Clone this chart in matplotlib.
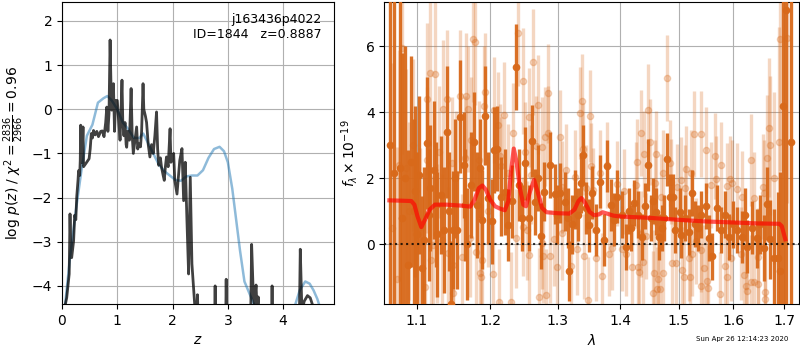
import numpy as np
import matplotlib
matplotlib.use('Agg')
import matplotlib.pyplot as plt
from matplotlib.ticker import NullLocator, FixedLocator, FixedFormatter

# ---- p(z) panel ----
pz_grid_z = [0.05, 0.15, 0.25, 0.35, 0.45, 0.55, 0.65, 0.75, 0.82, 0.9, 1.0, 1.1, 1.2, 1.3,
             1.4, 1.47, 1.55, 1.65, 1.75, 1.85, 1.95, 2.05, 2.15, 2.25, 2.35, 2.45, 2.55, 2.65,
             2.75, 2.85, 2.93, 3.0, 3.08, 3.15, 3.22, 3.3, 3.4, 3.5, 3.6, 4.1, 4.2, 4.3, 4.4,
             4.48, 4.55, 4.62, 4.67, 4.75]
pz_grid_lp = [-4.5, -3.3, -2.3, -1.4, -0.6, -0.35, 0.15, 0.25, 0.3, 0.2, 0.0, -0.3, -0.45, -0.65,
              -0.65, -0.55, -0.75, -1.0, -1.25, -1.4, -1.5, -1.6, -1.62, -1.52, -1.5, -1.5, -1.38, -1.1,
              -0.9, -0.85, -0.95, -1.2, -1.8, -2.5, -3.2, -3.9, -4.2, -4.5, -6, -6, -4.5, -4.1, -3.9,
              -3.95, -4.1, -4.3, -4.5, -6]

pz_fit_z = [0.0, 0.03, 0.085, 0.13, 0.145, 0.16, 0.175, 0.21, 0.23, 0.25, 0.266, 0.29, 0.30, 0.32,
            0.33, 0.338, 0.35, 0.36, 0.38, 0.39, 0.43, 0.49, 0.51, 0.53, 0.55, 0.57, 0.60, 0.63,
            0.66, 0.70, 0.73, 0.76, 0.79, 0.81, 0.83, 0.85, 0.87, 0.89, 0.90, 0.92, 0.93, 0.95,
            0.97, 1.00, 1.02, 1.04, 1.05, 1.07, 1.085, 1.10, 1.12, 1.14, 1.16, 1.17, 1.19, 1.22,
            1.25, 1.27, 1.29, 1.31, 1.35, 1.37, 1.39, 1.42, 1.44, 1.466, 1.48, 1.51, 1.53, 1.56,
            1.59, 1.62, 1.65, 1.68, 1.71, 1.73, 1.75, 1.78, 1.80, 1.83, 1.85, 1.87, 1.89, 1.92,
            1.955, 1.97, 1.985, 2.02, 2.04, 2.08, 2.13, 2.17, 2.20, 2.23, 2.26, 2.29, 2.32, 2.35,
            2.38, 2.41, 2.44, 2.45, 2.46, 2.5, 2.75, 2.77, 2.79, 2.95, 2.97, 2.99, 3.40, 3.43,
            3.46, 3.48, 3.51, 3.53, 3.55, 3.57, 3.78, 3.80, 3.82, 4.28, 4.31, 4.34, 4.38, 4.44,
            4.49, 4.55, 4.6]
pz_fit_lp = [-6, -4.6, -4.27, -3.73, -2.37, -3.3, -3.36, -2.98, -2.4, -2.5, -1.99, -1.6, -1.39, -1.5,
             -1.16, -0.36, -1.0, -1.2, -0.40, -1.3, -1.23, -1.12, -0.9, -0.55, -0.65, -0.48, -0.58, -0.5,
             -0.62, -0.5, -0.49, -0.62, -0.3, 0.05, -0.5, -0.1, 1.57, 0.3, -0.02, 0.2, 0.58, -0.5,
             0.2, 0.2, -0.17, -0.5, -0.7, 0.1, 0.66, -0.3, -0.6, -0.3, -0.8, -0.86, -0.5, -0.7,
             0.47, -0.6, -1.0, -0.8, -0.40, -0.9, -0.78, -0.85, -0.5, 0.58, 0.0, -0.16, -0.3, -0.8,
             -1.08, -0.8, -1.0, -0.6, -0.06, -0.9, -1.27, -1.1, -1.31, -1.5, -1.61, -1.3, -1.08, -1.3,
             -0.44, -1.2, -1.16, -1.0, -1.61, -1.92, -1.16, -0.89, -2.07, -1.2, -2.52, -3.73, -1.54, -3.5,
             -4.04, -4.6, -4.6, -4.2, -4.6, -6, -6, -4.0, -6, -6, -3.85, -6, -6, -3.06,
             -4.2, -4.4, -3.98, -4.6, -4.25, -6, -6, -4.0, -6, -6, -3.17, -4.6, -4.35, -4.22,
             -4.27, -4.5, -6]

# ---- spectrum panel ----
grism_a_wave = [1.066, 1.071, 1.0785, 1.081, 1.085, 1.089, 1.093, 1.096, 1.098, 1.100, 1.103, 1.107,
                1.110, 1.113, 1.1155, 1.118, 1.1225, 1.125, 1.127, 1.132, 1.136, 1.140, 1.143, 1.145,
                1.149, 1.151, 1.154, 1.158, 1.163, 1.165, 1.168, 1.173, 1.177, 1.182, 1.185, 1.188,
                1.192, 1.1965, 1.2025, 1.2055, 1.2095, 1.2155, 1.221,
                1.226, 1.232, 1.238, 1.2415, 1.2455, 1.2505, 1.257, 1.261, 1.266, 1.270, 1.275, 1.279,
                1.2885, 1.295, 1.299, 1.304, 1.3105, 1.316, 1.318, 1.322, 1.327, 1.332, 1.337, 1.3395,
                1.344, 1.349, 1.354, 1.3605, 1.367, 1.3725, 1.378, 1.384, 1.389, 1.395, 1.402, 1.409,
                1.414, 1.4185, 1.4235, 1.430, 1.436, 1.442, 1.446, 1.452, 1.456, 1.461, 1.466, 1.4715,
                1.475, 1.479, 1.4855, 1.490, 1.494, 1.502, 1.505, 1.511, 1.519, 1.524, 1.530, 1.534,
                1.541, 1.549, 1.555, 1.561, 1.569, 1.577, 1.584, 1.5925, 1.600, 1.608, 1.6175, 1.622,
                1.627, 1.636, 1.645, 1.652, 1.659, 1.665, 1.6715, 1.679, 1.6875, 1.692, 1.697, 1.704,
                1.714]
grism_a_flux = [3.0, 2.15, 2.3, 0.79, 2.0, -0.63, 2.5, 1.0, 1.6, 0.3, 2.1, -0.73,
                0.13, 3.06, 0.9, 1.7, 2.25, 1.2, 0.3, 1.49, 0.43, 3.39, 1.0, -1.8,
                0.43, 2.0, 0.43, 3.87, 2.4, 1.2, 0.0, 1.8, 3.11, 1.19, 2.3, 0.74,
                3.89, 1.4, 0.69, 2.86, 2.9, 1.44, 1.59,
                0.58, 1.3, 5.38, 1.8, 0.79, 2.45, 0.79, 3.13, 1.29, 2.0, 0.25, 1.59,
                2.4, 1.52, 0.9, 1.55, 1.29, 0.79, -0.81, 0.6, 1.36, 0.9, 1.85, 2.71,
                1.1, 0.58, 1.56, 0.43, 1.89, 0.13, 2.37, 1.19, 0.74, 1.44, 0.9, -0.08,
                1.0, 0.5, 1.26, 0.9, 0.22, 1.15, 2.4, 0.8, 1.3, 0.99, 0.22, 0.5,
                0.79, 2.58, 1.44, 1.44, 0.43, 0.99, 0.28, 0.8, 0.38, 1.56, 0.61, 0.5,
                0.9, 1.15, 0.18, -0.37, 1.1, 0.43, 0.9, 0.22, 0.6, 0.43, 0.22, 0.9,
                -0.08, 0.5, 0.18, 0.6, -0.1, 1.23, 0.15, -0.42, -0.42, -0.8, 4.19, 7.1,
                3.09]
grism_a_err = [8, 9, 7, 5, 4, 3.5, 3.2, 2.8, 2.6, 2.5, 2.4, 2.2,
               2.2, 2.0, 2.0, 1.9, 2.1, 1.9, 1.9, 1.8, 1.9, 2.0, 1.8, 1.9,
               1.8, 1.8, 1.8, 1.7, 1.6, 1.7, 1.7, 1.6, 1.5, 1.6, 1.5, 1.5,
               1.5, 1.4, 1.3, 1.3, 1.3, 1.2, 1.3,
               1.1, 1.1, 1.3, 1.1, 1.0, 1.1, 1.0, 1.1, 1.0, 1.0, 1.0, 0.9,
               1.0, 0.9, 0.9, 0.9, 0.9, 0.9, 0.9, 0.9, 0.9, 0.8, 0.9, 0.9,
               0.8, 0.8, 0.8, 0.8, 0.8, 0.8, 0.8, 0.8, 0.8, 0.8, 0.7, 0.7,
               0.7, 0.7, 0.7, 0.7, 0.7, 0.7, 0.8, 0.7, 0.7, 0.7, 0.7, 0.7,
               0.7, 0.8, 0.7, 0.7, 0.7, 0.7, 0.7, 0.7, 0.7, 0.7, 0.7, 0.7,
               0.7, 0.7, 0.7, 0.7, 0.7, 0.7, 0.7, 0.7, 0.7, 0.7, 0.8, 0.8,
               0.8, 0.8, 0.9, 0.9, 1.0, 1.1, 1.2, 1.5, 2.0, 3.0, 9, 9,
               9]

grism_b_wave = [1.068, 1.075, 1.077, 1.081, 1.0857, 1.090, 1.095, 1.099, 1.1043, 1.1104, 1.113, 1.114,
                1.1175, 1.1184, 1.1218, 1.124, 1.127, 1.130, 1.134, 1.135, 1.140, 1.142, 1.147, 1.148,
                1.149, 1.153, 1.1585, 1.160, 1.1645, 1.1665, 1.1685, 1.172, 1.173, 1.1755, 1.1785, 1.180,
                1.184, 1.185, 1.1865, 1.189, 1.191, 1.192, 1.197, 1.2035, 1.206, 1.211, 1.213, 1.2135,
                1.2155, 1.220, 1.225, 1.2295, 1.2325, 1.237, 1.240, 1.2475, 1.2478, 1.251, 1.2535, 1.256,
                1.2565, 1.2595, 1.263, 1.267, 1.270, 1.272, 1.2755, 1.2758, 1.278, 1.280, 1.282, 1.2845,
                1.2848, 1.288, 1.2935, 1.299, 1.303, 1.307, 1.3073, 1.3135, 1.3205, 1.327, 1.330, 1.334,
                1.3375, 1.340, 1.341, 1.345, 1.348, 1.3505, 1.352, 1.355, 1.3605, 1.3665, 1.3695, 1.378,
                1.381, 1.3865, 1.395, 1.4035, 1.4065, 1.409, 1.4195, 1.4265, 1.428, 1.429, 1.432, 1.435,
                1.4353, 1.438, 1.4405, 1.4435, 1.4465, 1.4495, 1.455, 1.457, 1.458, 1.461, 1.4613, 1.464,
                1.4665, 1.469, 1.472, 1.473, 1.479, 1.4845, 1.4865, 1.489, 1.495, 1.498, 1.5035, 1.5065,
                1.5095, 1.512, 1.5135, 1.518, 1.521, 1.522, 1.524, 1.527, 1.531, 1.5395, 1.5398, 1.5405,
                1.546, 1.549, 1.552, 1.553, 1.558, 1.567, 1.5673, 1.575, 1.578, 1.584, 1.589, 1.5893,
                1.594, 1.5965, 1.5985, 1.608, 1.6145, 1.6165, 1.620, 1.6245, 1.6275, 1.634, 1.6343, 1.6405,
                1.6408, 1.647, 1.6473, 1.657, 1.660, 1.6615, 1.662, 1.6665, 1.670, 1.672, 1.680, 1.690,
                1.6915, 1.7045]
grism_b_flux = [0.5, -1.06, 2.4, 5.94, 2.3, 1.0, 3.0, 0.3, 0.51, -1.28, 2.55, 4.4,
                5.19, -0.48, -0.02, 5.16, 0.33, 2.8, 0.13, 4.1, 4.40, -0.27, 2.45, -1.49,
                -0.63, 2.13, 4.5, -0.39, 2.6, 4.5, 4.1, 0.2, 3.16, 6.21, 6.12, -0.24,
                2.55, -0.88, -0.98, -0.48, 4.2, 4.6, 1.0, -0.9, 4.07, 3.62, -1.74, 2.66,
                2.36, 3.92, 2.15, -1.74, 3.38, 0.18, 6.39, 4.94, 0.53, 2.81, 0.43, 3.85,
                -0.33, 2.1, 5.52, 2.99, 4.22, -1.6, 2.95, 0.03, -0.37, 3.26, -1.54, 3.38,
                4.57, -0.37, 0.15, -0.7, 3.26, 1.74, 0.33, 2.25, -0.66, 2.05, -0.13, 3.97,
                4.35, 2.88, -0.37, 1.70, -1.69, 3.89, 2.36, 1.63, -0.43, 2.16, -0.96, 2.39,
                -0.28, -0.10, 1.84, -0.13, 1.6, -0.28, -0.68, 1.79, 2.49, -0.7, -0.83, 0.3,
                3.36, -0.53, 2.74, 0.25, 4.07, 3.11, -1.49, -0.88, 1.87, 2.74, -1.37, -1.06,
                -1.37, 1.43, 2.16, -0.86, 5.03, 2.45, 1.9, -0.58, -0.58, 1.74, 1.95, -0.78,
                -0.98, 1.70, 2.28, -0.43, -0.98, 2.17, -0.28, 3.34, 0.09, -0.16, -1.26, 3.33,
                -0.71, 2.86, -1.1, -1.32, 1.79, 2.68, 1.97, -1.52, 2.39, -0.65, -0.98, 1.76,
                1.97, -0.43, 1.85, 1.68, -0.28, 1.43, -0.94, -1.27, -1.43, 2.55, -1.13, -1.13,
                1.4, -1.2, -0.4, 1.75, 1.56, -1.44, -1.66, 2.62, 3.53, 3.0, 2.0, 3.09,
                6.21, 6.24]
grism_b_err = [5, 4, 3.5, 3.2, 3, 2.7, 2.6, 2.5, 2.4, 2.3, 2.2, 2.3,
               2.2, 2.1, 2.1, 2.2, 2.1, 2.0, 2.0, 2.1, 2.1, 2.0, 2.0, 2.0,
               1.9, 1.9, 2.0, 1.9, 1.9, 1.9, 1.9, 1.8, 1.9, 1.9, 1.9, 1.8,
               1.8, 1.8, 1.8, 1.7, 1.8, 1.8, 1.7, 1.6, 1.6, 1.6, 1.6, 1.6,
               1.5, 1.6, 1.5, 1.5, 1.5, 1.5, 1.6, 1.6, 1.5, 1.5, 1.5, 1.5,
               1.5, 1.5, 1.6, 1.5, 1.5, 1.5, 1.5, 1.4, 1.4, 1.5, 1.4, 1.4,
               1.5, 1.4, 1.4, 1.4, 1.4, 1.4, 1.4, 1.4, 1.4, 1.4, 1.4, 1.4,
               1.4, 1.4, 1.3, 1.3, 1.3, 1.4, 1.3, 1.3, 1.3, 1.3, 1.3, 1.3,
               1.3, 1.3, 1.3, 1.3, 1.3, 1.3, 1.3, 1.3, 1.3, 1.3, 1.3, 1.3,
               1.3, 1.3, 1.3, 1.3, 1.4, 1.3, 1.3, 1.3, 1.3, 1.3, 1.3, 1.3,
               1.3, 1.3, 1.3, 1.3, 1.3, 1.3, 1.3, 1.3, 1.3, 1.3, 1.3, 1.3,
               1.3, 1.3, 1.3, 1.3, 1.3, 1.3, 1.3, 1.3, 1.3, 1.3, 1.3, 1.3,
               1.3, 1.3, 1.3, 1.3, 1.3, 1.3, 1.3, 1.3, 1.3, 1.3, 1.3, 1.3,
               1.3, 1.3, 1.3, 1.4, 1.4, 1.4, 1.4, 1.4, 1.4, 1.4, 1.4, 1.4,
               1.4, 1.5, 1.5, 1.6, 1.6, 1.6, 1.6, 1.9, 2.1, 2.1, 2.6, 3.5,
               4, 5]

model_wave = [1.065, 1.080, 1.093, 1.097, 1.101, 1.106, 1.111, 1.117, 1.124, 1.140, 1.160, 1.172,
              1.178, 1.184, 1.189, 1.194, 1.200, 1.207, 1.214, 1.221, 1.226, 1.230, 1.234, 1.238,
              1.243, 1.248, 1.252, 1.258, 1.264, 1.270, 1.276, 1.283, 1.300, 1.318, 1.326, 1.332,
              1.337, 1.343, 1.350, 1.357, 1.364, 1.371, 1.378, 1.388, 1.400, 1.450, 1.500, 1.550,
              1.600, 1.650, 1.690, 1.695, 1.702]
model_flux = [1.33, 1.32, 1.31, 1.2, 0.85, 0.52, 0.75, 1.05, 1.2, 1.2, 1.17, 1.14,
              1.35, 1.7, 1.78, 1.65, 1.35, 1.15, 1.08, 1.03, 1.3, 2.2, 2.9, 2.5,
              1.7, 1.2, 1.15, 1.6, 1.95, 1.55, 1.1, 0.97, 0.94, 0.93, 1.05, 1.3,
              1.40, 1.25, 0.98, 0.88, 0.9, 0.97, 0.93, 0.87, 0.84, 0.80, 0.74, 0.69,
              0.66, 0.63, 0.62, 0.55, 0.15]

wave_ticks = [1.1, 1.2, 1.3, 1.4, 1.5, 1.6, 1.7]
wave_labels = ['1.1', '1.2', '1.3', '1.4', '1.5', '1.6', '1.7']

spec_color = '#d8691a'

fig = plt.figure(figsize=(8, 3.5), dpi=100)
ax1 = fig.add_axes([62/800, 46/350, 272/800, 302/350])
ax2 = fig.add_axes([384.3/800, 46/350, 415/800, 302/350])

# PZ
ax1.plot(pz_grid_z, pz_grid_lp, color='tab:blue', alpha=0.5, lw=1.8)
ax1.plot(pz_fit_z, pz_fit_lp, color='k', alpha=0.75, lw=2)
ax1.set_xlim(0, 4.92)
ax1.set_ylim(-4.41, 2.43)
ax1.set_xticks([0, 1, 2, 3, 4])
ax1.set_yticks([-4, -3, -2, -1, 0, 1, 2])
ax1.grid(True)
ax1.set_xlabel('$z$', fontsize=10)
ax1.set_ylabel(r'log $p(z)$ / $\chi^2=\frac{2836}{2966}=0.96$', fontsize=10)
ax1.text(0.955, 0.965, 'j163436p4022\nID=1844   z=0.8887', transform=ax1.transAxes,
         ha='right', va='top', multialignment='right', fontsize=9)

# SPECTRUM
ax2.errorbar(grism_b_wave, grism_b_flux, yerr=grism_b_err, fmt='o', color=spec_color,
             alpha=0.27, ms=4.5, elinewidth=2.4, capsize=0, zorder=2)
ax2.errorbar(grism_a_wave, grism_a_flux, yerr=grism_a_err, fmt='o', color=spec_color,
             alpha=0.95, ms=4.5, elinewidth=2.4, capsize=0, zorder=3)
ax2.plot(model_wave, model_flux, color='red', alpha=0.65, lw=3, zorder=4)
ax2.axhline(0, color='k', linestyle=':', lw=1.5, alpha=0.8, zorder=5)

ax2.set_xscale('log')
ax2.set_xlim(1.0586, 1.7305)
ax2.set_ylim(-1.81, 7.34)
ax2.xaxis.set_major_locator(FixedLocator(wave_ticks))
ax2.xaxis.set_major_formatter(FixedFormatter(wave_labels))
ax2.xaxis.set_minor_locator(NullLocator())
ax2.set_yticks([0, 2, 4, 6])
ax2.grid(True)
ax2.set_xlabel(r'$\lambda$', fontsize=10)
ax2.set_ylabel(r'$f_\lambda\times10^{-19}$', fontsize=10)

fig.text(0.928, 0.031, 'Sun Apr 26 12:14:23 2020', ha='center', va='center', fontsize=5)

fig.savefig('out.png', dpi=100)
